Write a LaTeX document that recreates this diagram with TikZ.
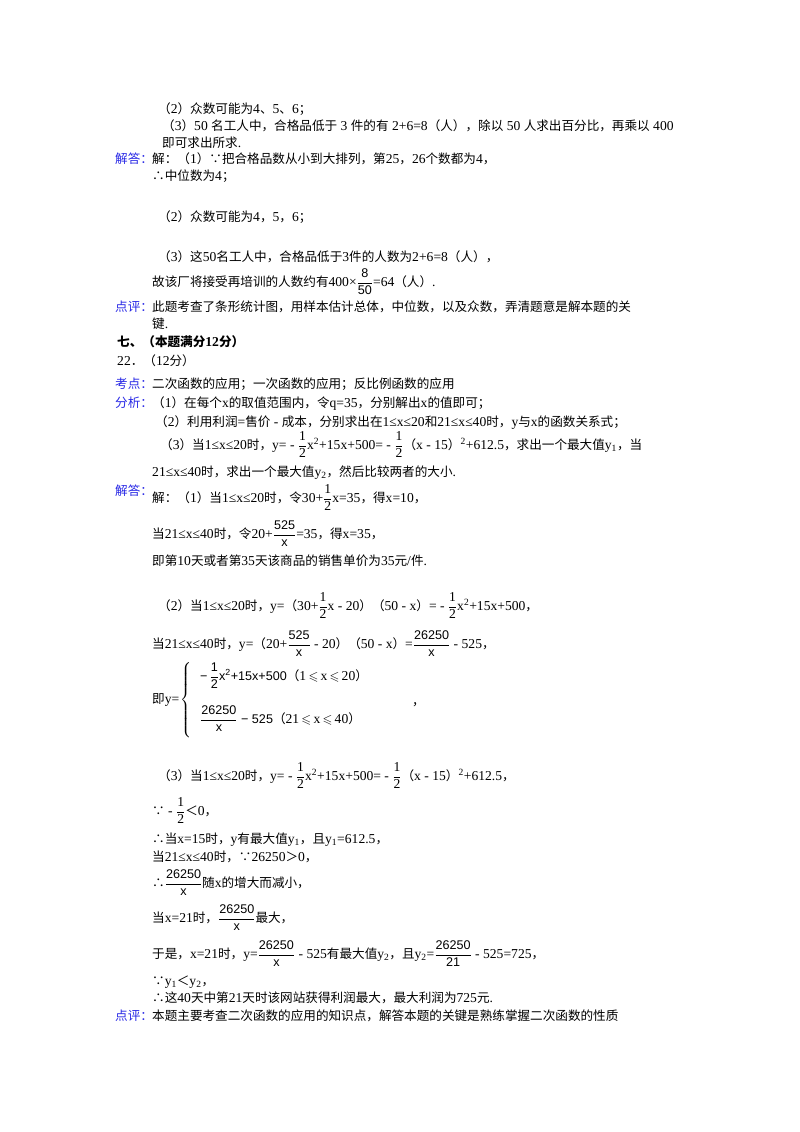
\documentclass[tikz,border=0pt]{standalone}
\usepackage{amssymb}
\usepackage{fontspec}
\setmainfont{Liberation Serif}[Scale=1.08]
\newfontfamily\latin{Liberation Serif}[Scale=1.08]
\newfontfamily\cjk{Noto Sans CJK SC}
\newfontfamily\sans{Liberation Sans}
\XeTeXinterchartokenstate=1
\newXeTeXintercharclass\cjkclass
\count255="4E00 \loop\XeTeXcharclass\count255=\cjkclass\advance\count255 by 1 \ifnum\count255<"A000 \repeat
\count255="3000 \loop\XeTeXcharclass\count255=\cjkclass\advance\count255 by 1 \ifnum\count255<"3040 \repeat
\count255="FF00 \loop\XeTeXcharclass\count255=\cjkclass\advance\count255 by 1 \ifnum\count255<"FFF0 \repeat
\XeTeXcharclass"2234=\cjkclass \XeTeXcharclass"2235=\cjkclass
\XeTeXinterchartoks 0 \cjkclass = {\cjk}
\XeTeXinterchartoks 4095 \cjkclass = {\cjk}
\XeTeXinterchartoks \cjkclass 0 = {\latin}
\XeTeXinterchartoks \cjkclass 4095 = {\latin}
\newcommand\fr[2]{$\displaystyle\frac{\hbox{#1}}{\hbox{#2}}$}
\newcommand\frs[2]{$\displaystyle\frac{\hbox{\sans #1}}{\hbox{\sans #2}}$}
\newcommand\lsl{\,$\leqslant$\,}
\definecolor{lab}{RGB}{40,40,230}
\begin{document}
\begin{tikzpicture}[x=1pt,y=-1pt,
  t/.style={anchor=base west,inner sep=0pt,font=\fontsize{12.6}{15}\selectfont},
  lb/.style={t,text=lab}]
\useasboundingbox[fill=white] (0,0) rectangle (800,1132);
\node[t] (a1) at (158,113) {（2）众数可能为4、5、6；};
\node[t] (a2) at (162,130) {（3）50 名工人中，合格品低于 3 件的有 2+6=8（人），除以 50 人求出百分比，再乘以 400};
\node[t] (a3) at (162,147) {即可求出所求.};
\node[lb] (l1) at (115,163) {解答：};
\node[t] (a4) at (152,163) {解：（1）∵把合格品数从小到大排列，第25，26个数都为4，};
\node[t] (a5) at (152,180) {∴中位数为4；};
\node[t] (a6) at (158,221) {（2）众数可能为4，5，6；};
\node[t] (a7) at (158,261) {（3）这50名工人中，合格品低于3件的人数为2+6=8（人），};
\node[t] (a8) at (152,286) {故该厂将接受再培训的人数约有400×\frs{8}{50}=64（人）.};
\node[lb] (l2) at (115,311) {点评：};
\node[t] (a9) at (152,311) {此题考查了条形统计图，用样本估计总体，中位数，以及众数，弄清题意是解本题的关};
\node[t] (a10) at (152,328) {键.};
\node[t,font=\fontsize{12.6}{15}\selectfont\bfseries] (h1) at (117,346) {七、（本题满分12分）};
\node[t] (h2) at (117,365) {22．（12分）};
\node[lb] (l3) at (115,388) {考点：};
\node[t] (b1) at (152,388) {二次函数的应用；一次函数的应用；反比例函数的应用};
\node[lb] (l4) at (115,407) {分析：};
\node[t] (b2) at (152,407) {（1）在每个x的取值范围内，令q=35，分别解出x的值即可；};
\node[t] (b3) at (155,426) {（2）利用利润=售价 - 成本，分别求出在1≤x≤20和21≤x≤40时，y与x的函数关系式；};
\node[t] (b4) at (160,449) {（3）当1≤x≤20时，y= - \fr{1}{2}x\textsuperscript{2}+15x+500= - \fr{1}{2}（x - 15）\textsuperscript{2}+612.5，求出一个最大值y\textsubscript{1}，当};
\node[t] (b5) at (152,476) {21≤x≤40时，求出一个最大值y\textsubscript{2}，然后比较两者的大小.};
\node[lb] (l5) at (115,495) {解答：};
\node[t] (c1) at (152,502) {解：（1）当1≤x≤20时，令30+\fr{1}{2}x=35，得x=10，};
\node[t] (c2) at (152,538) {当21≤x≤40时，令20+\frs{525}{x}=35，得x=35，};
\node[t] (c3) at (152,565) {即第10天或者第35天该商品的销售单价为35元/件.};
\node[t] (c4) at (158,610) {（2）当1≤x≤20时，y=（30+\fr{1}{2}x - 20）（50 - x）= - \fr{1}{2}x\textsuperscript{2}+15x+500，};
\node[t] (c5) at (152,648) {当21≤x≤40时，y=（20+\frs{525}{x} - 20）（50 - x）=\frs{26250}{x} - 525，};
\node[t] (c6) at (152,703) {即y=};
\node[t,anchor=base west] (br) at (180,703) {$\left\{\vrule height 36pt depth 36pt width 0pt\right.$};
\node[t,font=\fontsize{12.6}{15}\selectfont\sans] (p1) at (200,680) {\textminus\,\frs{1}{2}x\textsuperscript{2}+15x+500（1\lsl x\lsl 20）};
\node[t,font=\fontsize{12.6}{15}\selectfont\sans] (p2) at (200,723) {\frs{26250}{x} \textminus\ 525（21\lsl x\lsl 40）};
\node[t] (cm) at (412,705) {，};
\node[t] (d1) at (158,780) {（3）当1≤x≤20时，y= - \fr{1}{2}x\textsuperscript{2}+15x+500= - \fr{1}{2}（x - 15）\textsuperscript{2}+612.5，};
\node[t] (d2) at (152,815) {∵ - \fr{1}{2}＜0，};
\node[t] (d3) at (152,843) {∴当x=15时，y有最大值y\textsubscript{1}，且y\textsubscript{1}=612.5，};
\node[t] (d4) at (152,861) {当21≤x≤40时，∵26250＞0，};
\node[t] (d5) at (152,887) {∴\frs{26250}{x}随x的增大而减小，};
\node[t] (d6) at (152,922) {当x=21时，\frs{26250}{x}最大，};
\node[t] (d7) at (152,958) {于是，x=21时，y=\frs{26250}{x} - 525有最大值y\textsubscript{2}，且y\textsubscript{2}=\frs{26250}{21} - 525=725，};
\node[t] (d8) at (152,985) {∵y\textsubscript{1}＜y\textsubscript{2}，};
\node[t] (d9) at (152,1002) {∴这40天中第21天时该网站获得利润最大，最大利润为725元.};
\node[lb] (l6) at (115,1020) {点评：};
\node[t] (e1) at (152,1020) {本题主要考查二次函数的应用的知识点，解答本题的关键是熟练掌握二次函数的性质};
\end{tikzpicture}
\end{document}
